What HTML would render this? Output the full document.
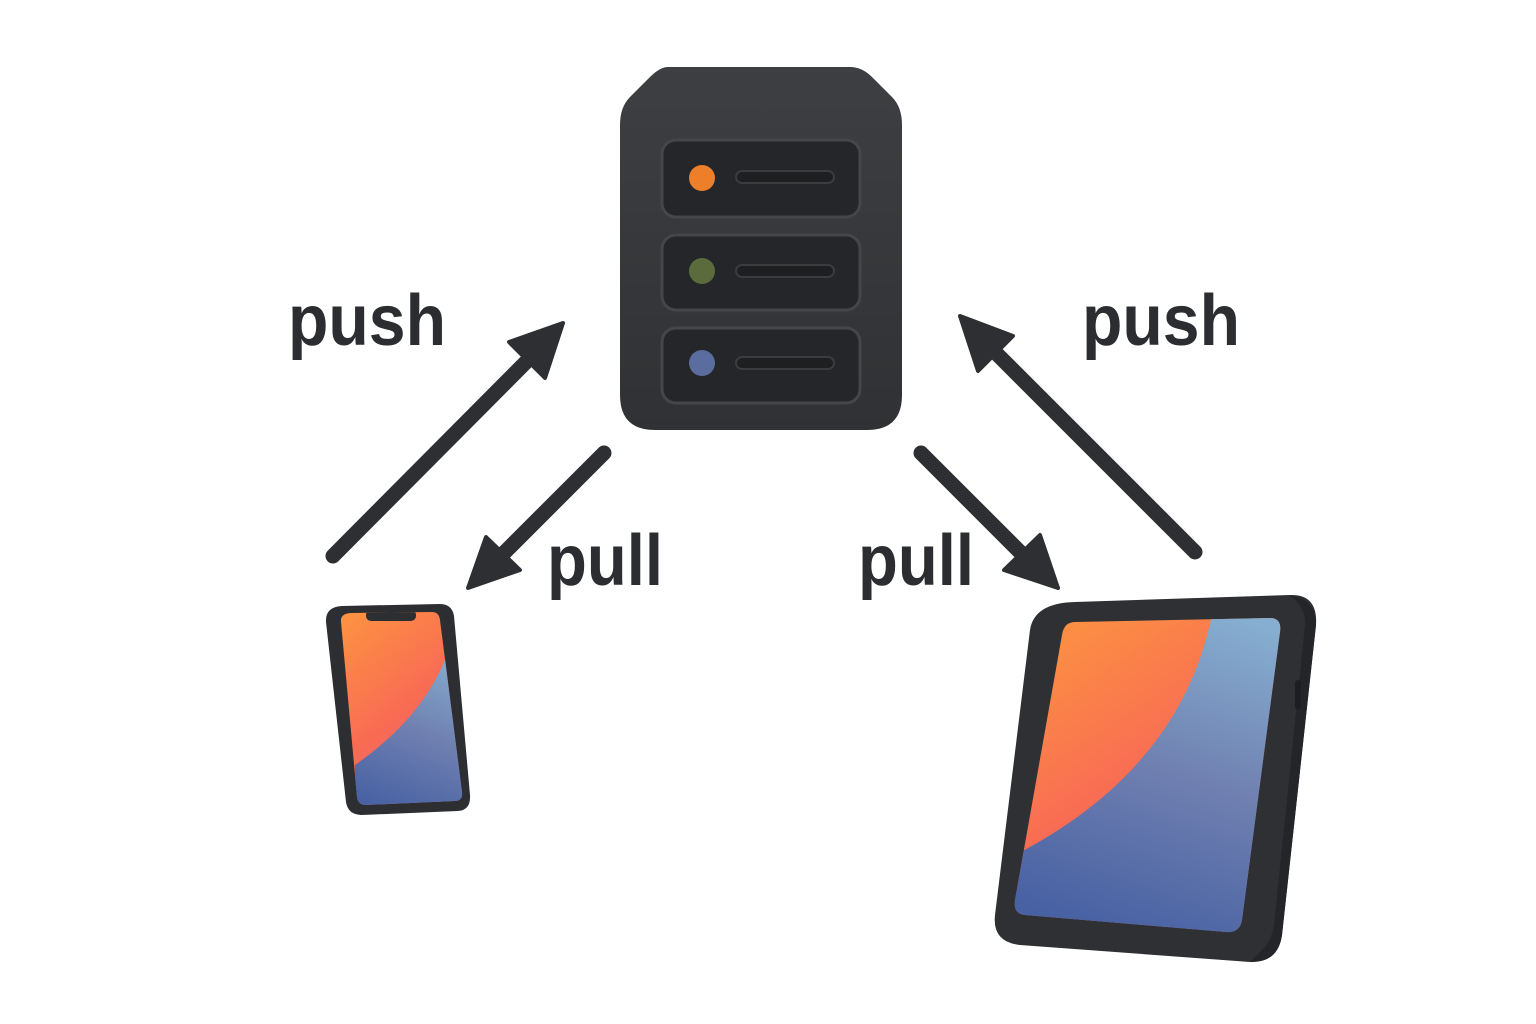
<!DOCTYPE html>
<html><head><meta charset="utf-8"><style>
html,body{margin:0;padding:0;background:#fff;}
svg{display:block;}
text{font-family:"Liberation Sans",sans-serif;font-weight:bold;fill:#2b2d31;}
</style></head><body>
<svg width="1536" height="1024" viewBox="0 0 1536 1024" xmlns="http://www.w3.org/2000/svg">
<defs>
<linearGradient id="scr" x1="0" y1="0" x2="0.6" y2="1">
<stop offset="0" stop-color="#fd9a3e"/><stop offset="0.6" stop-color="#f86a55"/><stop offset="1" stop-color="#c56f86"/>
</linearGradient>
<linearGradient id="blu" x1="0.7" y1="0" x2="0.4" y2="1">
<stop offset="0" stop-color="#86aed0"/><stop offset="0.5" stop-color="#6f7fb0"/><stop offset="1" stop-color="#4761a3"/>
</linearGradient>
<linearGradient id="srv" x1="0" y1="0" x2="0" y2="1">
<stop offset="0" stop-color="#3d3f42"/><stop offset="1" stop-color="#2f3134"/>
</linearGradient>
</defs>

<path d="M668 67 L850 67 Q862 67 872 77 L892 97 Q902 107 902 125 L902 395 Q902 430 867 430 L655 430 Q620 430 620 395 L620 125 Q620 107 630 97 L650 77 Q660 67 668 67 Z" fill="url(#srv)"/>
<g fill="#252629" stroke="#44464a" stroke-width="3">
<rect x="662" y="140" width="198" height="77" rx="14"/>
<rect x="662" y="235" width="198" height="75" rx="14"/>
<rect x="662" y="328" width="198" height="75" rx="14"/>
</g>
<g fill="#1e1f21" stroke="#3a3c40" stroke-width="2">
<rect x="736" y="171" width="98" height="12" rx="6"/>
<rect x="736" y="265" width="98" height="12" rx="6"/>
<rect x="736" y="357" width="98" height="12" rx="6"/>
</g>
<circle cx="702" cy="178" r="13" fill="#ee7f2a"/>
<circle cx="702" cy="271" r="13" fill="#5b6b3c"/>
<circle cx="702" cy="363" r="13" fill="#5b6d9f"/>

<g stroke="#2d2f33" stroke-width="15" stroke-linecap="round" fill="none">
<line x1="333" y1="556" x2="528" y2="360"/>
<line x1="604" y1="453" x2="492" y2="565"/>
<line x1="921" y1="453" x2="1036" y2="568"/>
<line x1="1195" y1="552" x2="992" y2="349"/>
</g>
<g fill="#2d2f33" stroke="#2d2f33" stroke-width="4" stroke-linejoin="round">
<polygon points="563,323 509,342 545,378"/>
<polygon points="468,588 486,537 520,570"/>
<polygon points="1058,588 1004,570 1040,535"/>
<polygon points="960,316 1013,336 978,371"/>
</g>

<text x="288" y="345" font-size="72" textLength="158" lengthAdjust="spacingAndGlyphs">push</text>
<text x="1082" y="345" font-size="72" textLength="158" lengthAdjust="spacingAndGlyphs">push</text>
<text x="547" y="585" font-size="72" textLength="116" lengthAdjust="spacingAndGlyphs">pull</text>
<text x="858" y="585" font-size="72" textLength="116" lengthAdjust="spacingAndGlyphs">pull</text>

<path d="M342 606 L440 604 Q452 604 454 616 L470 795 Q471 810 458 811 L362 815 Q348 815 346 802 L326 622 Q325 607 342 606 Z" fill="#2c2e31"/>
<clipPath id="pc"><path d="M350 613 L432 612 Q439 612 440 620 L462 792 Q463 801 455 801 L366 805 Q358 805 357 797 L341 622 Q340 614 350 613 Z"/></clipPath>
<g clip-path="url(#pc)">
<rect x="330" y="600" width="150" height="220" fill="url(#scr)"/>
<path d="M445 660 Q420 720 355 765 L355 820 L480 820 L480 650 Z" fill="url(#blu)"/>
<rect x="366" y="610" width="50" height="11" rx="5" fill="#2c2e31"/>
</g>

<path d="M1075 602 L1290 595 Q1318 594 1316 625 L1282 935 Q1278 963 1250 962 L1020 945 Q992 942 995 915 L1030 630 Q1034 603 1075 602 Z" fill="#2e3033"/>
<path d="M1290 596 Q1316 598 1316 625 L1282 935 Q1278 963 1250 962 L1262 950 Q1272 940 1274 925 L1305 625 Q1306 606 1290 596 Z" fill="#242528"/>
<rect x="1295" y="680" width="6" height="30" rx="3" fill="#1d1e20"/>
<clipPath id="tc"><path d="M1075 622 L1270 618 Q1282 618 1280 632 L1242 920 Q1240 933 1226 932 L1025 915 Q1013 914 1015 900 L1062 635 Q1064 622 1075 622 Z"/></clipPath>
<g clip-path="url(#tc)">
<rect x="1000" y="610" width="300" height="330" fill="url(#scr)"/>
<path d="M1212 615 Q1180 770 1015 855 L1010 940 L1300 940 L1300 610 Z" fill="url(#blu)"/>
</g>
</svg>
</body></html>
